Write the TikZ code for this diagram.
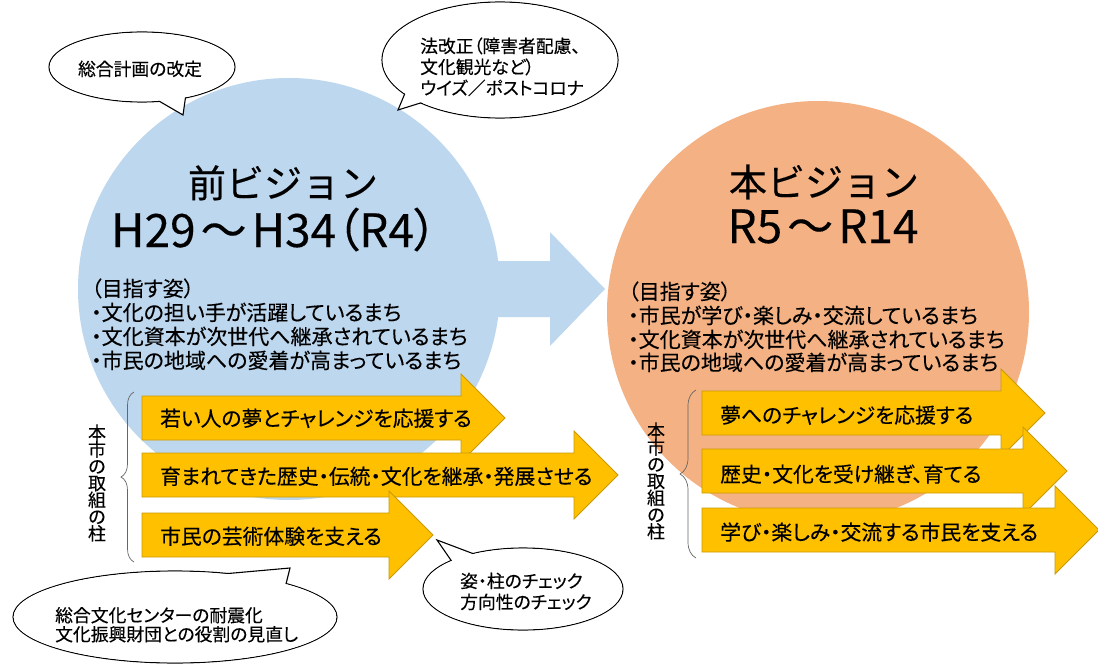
\documentclass[tikz,border=0pt]{standalone}
\usepackage{fontspec}
\setmainfont{Noto Sans CJK JP}[FakeBold=0.3]
\newfontfamily\jpp{Noto Sans CJK JP}[RawFeature=+palt, FakeBold=0.3]
\usetikzlibrary{decorations.pathreplacing}
\definecolor{cblue}{HTML}{BDD7EE}
\definecolor{corange}{HTML}{F4B183}
\definecolor{cyellow}{HTML}{FFC000}
\definecolor{cyedge}{HTML}{C99A06}
\newcommand\yarrow[3]{%
  \draw[yarr] (#1,#2-22) -- (#3-44,#2-22) -- (#3-44,#2-44) -- (#3,#2) -- (#3-44,#2+44) -- (#3-44,#2+22) -- (#1,#2+22) -- cycle;}
\begin{document}
\begin{tikzpicture}[x=1pt,y=-1pt,
  titlek/.style={anchor=base, inner sep=0, font=\fontsize{38}{40}\selectfont},
  titlel/.style={anchor=base, inner sep=0, font=\jpp\fontsize{46}{48}\selectfont},
  body/.style={anchor=base west, inner sep=0, font=\jpp\fontsize{21}{23}\selectfont},
  arrtxt/.style={anchor=base west, inner sep=0, font=\jpp\fontsize{20.8}{23}\selectfont},
  btxt/.style={anchor=base west, inner sep=0, font=\jpp\fontsize{17.8}{19}\selectfont},
  vert/.style={align=center, inner sep=0, font=\fontsize{18}{16.8}\selectfont},
  yarr/.style={fill=cyellow, draw=cyedge, line width=0.8pt, line join=miter},
  bub/.style={fill=white, draw=black, line width=1.1pt},
  brc/.style={draw=black!60, line width=0.7pt, decorate, decoration={brace, amplitude=#1}},
  bigcirc/.style={circle, inner sep=0, minimum size=422pt}]
\useasboundingbox (0,0) rectangle (1098,666);
\fill[white] (0,0) rectangle (1098,666);
% circles
\node[bigcirc, fill=cblue] (lc) at (289,289) {};
\fill[cblue] (480,261) -- (550,261) -- (550,232) -- (605,289) -- (550,346) -- (550,317) -- (480,317) -- cycle;
\node[bigcirc, fill=corange] (rc) at (818,312) {};
% titles
\node[titlek] (lt1) at (283,197.4) {前ビジョン};
\node[titlel] (lt2) at (274,247) {H29\kern5pt～\kern5pt H34（R4）};
\node[titlek] (rt1) at (824,196.4) {本ビジョン};
\node[titlel] (rt2) at (823,243) {R5\kern5pt～\kern5pt R14};
% body texts
\node[body] (lb1) at (91,296.4) {（目指す姿）};
\node[body] (lb2) at (91,320.4) {・文化の担い手が活躍しているまち};
\node[body] (lb3) at (91,344.4) {・文化資本が次世代へ継承されているまち};
\node[body] (lb4) at (91,368.4) {・市民の地域への愛着が高まっているまち};
\node[body] (rb1) at (628,299.4) {（目指す姿）};
\node[body] (rb2) at (628,323.4) {・市民が学び・楽しみ・交流しているまち};
\node[body] (rb3) at (628,347.4) {・文化資本が次世代へ継承されているまち};
\node[body] (rb4) at (628,370.4) {・市民の地域への愛着が高まっているまち};
% yellow arrows left
\yarrow{142}{418}{505}
\yarrow{142}{475}{618}
\yarrow{142}{535}{433}
\node[arrtxt] (la1) at (160,426.2) {若い人の夢とチャレンジを応援する};
\node[arrtxt] (la2) at (160,484.2) {育まれてきた歴史・伝統・文化を継承・発展させる};
\node[arrtxt] (la3) at (160,544.2) {市民の芸術体験を支える};
% yellow arrows right
\yarrow{702}{413}{1045}
\yarrow{702}{471}{1067}
\yarrow{702}{530}{1099}
\node[arrtxt] (ra1) at (720,423) {夢へのチャレンジを応援する};
\node[arrtxt] (ra2) at (720,482) {歴史・文化を受け継ぎ、育てる};
\node[arrtxt] (ra3) at (720,540) {学び・楽しみ・交流する市民を支える};
% braces and vertical labels
\draw[brc=13pt] (134,562) -- (134,392);
\draw[brc=16pt] (696,558) -- (696,390);
\node[vert] (lv) at (97,483) {本\\市\\の\\取\\組\\の\\柱};
\node[vert] (rv) at (656,481) {本\\市\\の\\取\\組\\の\\柱};
% bubble 1
\draw[bub] (142,67) ellipse [x radius=93, y radius=35];
\filldraw[bub] (152,97) -- (183,115) -- (186,94);
\fill[white] (142,67) ellipse [x radius=92.3, y radius=34.3];
\node[btxt, anchor=base] (b1) at (140,75.6) {総合計画の改定};
% bubble 2
\draw[bub] (500,60) ellipse [x radius=118, y radius=58];
\filldraw[bub] (408,86) -- (398,110) -- (430,100);
\fill[white] (500,60) ellipse [x radius=117.3, y radius=57.3];
\node[btxt] (b2a) at (420,52.7) {法改正（障害者配慮、};
\node[btxt] (b2b) at (420,73.7) {文化観光など）};
\node[btxt] (b2c) at (420,94.7) {ウイズ／ポストコロナ};
% bubble 3
\draw[bub] (523,589) ellipse [x radius=100, y radius=41];
\filldraw[bub] (455,566) -- (437,540) -- (482,557);
\fill[white] (523,589) ellipse [x radius=99.3, y radius=40.3];
\node[btxt] (b3a) at (460,587.7) {姿・柱のチェック};
\node[btxt] (b3b) at (460,608.7) {方向性のチェック};
% bubble 4
\draw[bub] (175,617) ellipse [x radius=162, y radius=46];
\filldraw[bub] (200,576) -- (290,568) -- (285,588);
\fill[white] (175,617) ellipse [x radius=161.3, y radius=45.3];
\node[btxt] (b4a) at (55,622) {総合文化センターの耐震化};
\node[btxt] (b4b) at (55,641) {文化振興財団との役割の見直し};
\end{tikzpicture}
\end{document}
